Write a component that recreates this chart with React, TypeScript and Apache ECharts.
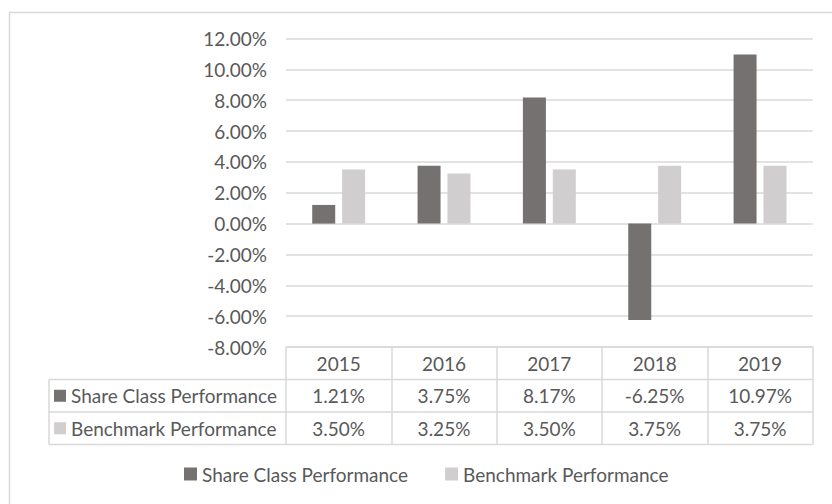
import React, { useEffect, useRef } from "react";
import * as echarts from "echarts";

const years = ["2015", "2016", "2017", "2018", "2019"];
const shareClass = [1.21, 3.75, 8.17, -6.25, 10.97];
const benchmark = [3.5, 3.25, 3.5, 3.75, 3.75];
const seriesNames = ["Share Class Performance", "Benchmark Performance"];
const seriesColors = ["#767171", "#d0cece"];
const yMin = -8;
const yMax = 12;
const yStep = 2;

const W = 832;
const H = 504;
const GRID_LEFT = 286;
const GRID_RIGHT_X = 812.7;
const GRID_TOP = 38.5;
const GRID_BOTTOM_Y = 347;
const ROW_H = 32.5;
const TABLE_LEFT = 49;
const FONT = "Lato";
const FS = 19;
const TXT = "#595959";
const LINE = "#d9d9d9";

const fmt = (v: number) => v.toFixed(2) + "%";

export default function App() {
  const ref = useRef<HTMLDivElement>(null);
  useEffect(() => {
    if (!ref.current) return;
    const chart = echarts.init(ref.current, null, { renderer: "svg" });
    const rowsY = [1, 2, 3].map((k) => GRID_BOTTOM_Y + ROW_H * k);
    const graphic: any[] = [
      {
        type: "rect",
        shape: { x: 9.5, y: 12.5, width: 840, height: 520 },
        style: { fill: "none", stroke: LINE, lineWidth: 1.5 },
        silent: true,
      },
    ];
    rowsY.forEach((y) => {
      graphic.push({
        type: "line",
        shape: { x1: TABLE_LEFT, y1: y, x2: GRID_RIGHT_X, y2: y },
        style: { stroke: LINE, lineWidth: 1.5 },
        silent: true,
      });
    });
    graphic.push({
      type: "line",
      shape: { x1: TABLE_LEFT, y1: rowsY[0], x2: TABLE_LEFT, y2: rowsY[2] },
      style: { stroke: LINE, lineWidth: 1.5 },
      silent: true,
    });
    seriesNames.forEach((name, i) => {
      const cy = GRID_BOTTOM_Y + ROW_H * (i + 1.5);
      graphic.push({
        type: "rect",
        shape: { x: 54, y: cy - 6, width: 12, height: 12 },
        style: { fill: seriesColors[i] },
        silent: true,
      });
      graphic.push({
        type: "text",
        x: 71,
        y: cy,
        style: {
          text: name,
          fill: TXT,
          font: `${FS}px ${FONT}`,
          verticalAlign: "middle",
          align: "left",
        },
        silent: true,
      });
    });

    chart.setOption({
      animation: false,
      grid: {
        left: GRID_LEFT,
        right: W - GRID_RIGHT_X,
        top: GRID_TOP,
        bottom: H - GRID_BOTTOM_Y,
      },
      legend: {
        left: 179,
        top: 459,
        itemWidth: 13,
        itemHeight: 13,
        itemGap: 37,
        icon: "rect",
        textStyle: { color: TXT, fontFamily: FONT, fontSize: FS, lineHeight: 20 },
        data: seriesNames,
      },
      xAxis: {
        type: "category",
        data: years,
        position: "bottom",
        axisLine: { show: true, onZero: false, lineStyle: { color: LINE, width: 1.5 } },
        axisTick: {
          show: true,
          alignWithLabel: false,
          inside: false,
          length: ROW_H * 3,
          lineStyle: { color: LINE, width: 1.5 },
        },
        axisLabel: {
          interval: 0,
          margin: 0,
          color: TXT,
          fontFamily: FONT,
          fontSize: FS,
          lineHeight: ROW_H,
          formatter: (_v: string, i: number) =>
            `${years[i]}\n${fmt(shareClass[i])}\n${fmt(benchmark[i])}`,
        },
      },
      yAxis: {
        type: "value",
        min: yMin,
        max: yMax,
        interval: yStep,
        axisLine: { show: false },
        axisTick: { show: false },
        splitLine: { lineStyle: { color: LINE, width: 1.5 } },
        axisLabel: {
          margin: 19,
          color: TXT,
          fontFamily: FONT,
          fontSize: FS,
          formatter: (v: number) => fmt(v),
        },
      },
      series: [
        {
          name: seriesNames[0],
          type: "bar",
          data: shareClass,
          barWidth: 23,
          barGap: "30%",
          itemStyle: { color: seriesColors[0] },
        },
        {
          name: seriesNames[1],
          type: "bar",
          data: benchmark,
          barWidth: 23,
          barGap: "30%",
          itemStyle: { color: seriesColors[1] },
        },
      ],
      graphic,
    });
    return () => chart.dispose();
  }, []);
  return (
    <div
      ref={ref}
      style={{ position: "absolute", left: 0, top: 0, width: W, height: H, background: "#fff" }}
    />
  );
}
